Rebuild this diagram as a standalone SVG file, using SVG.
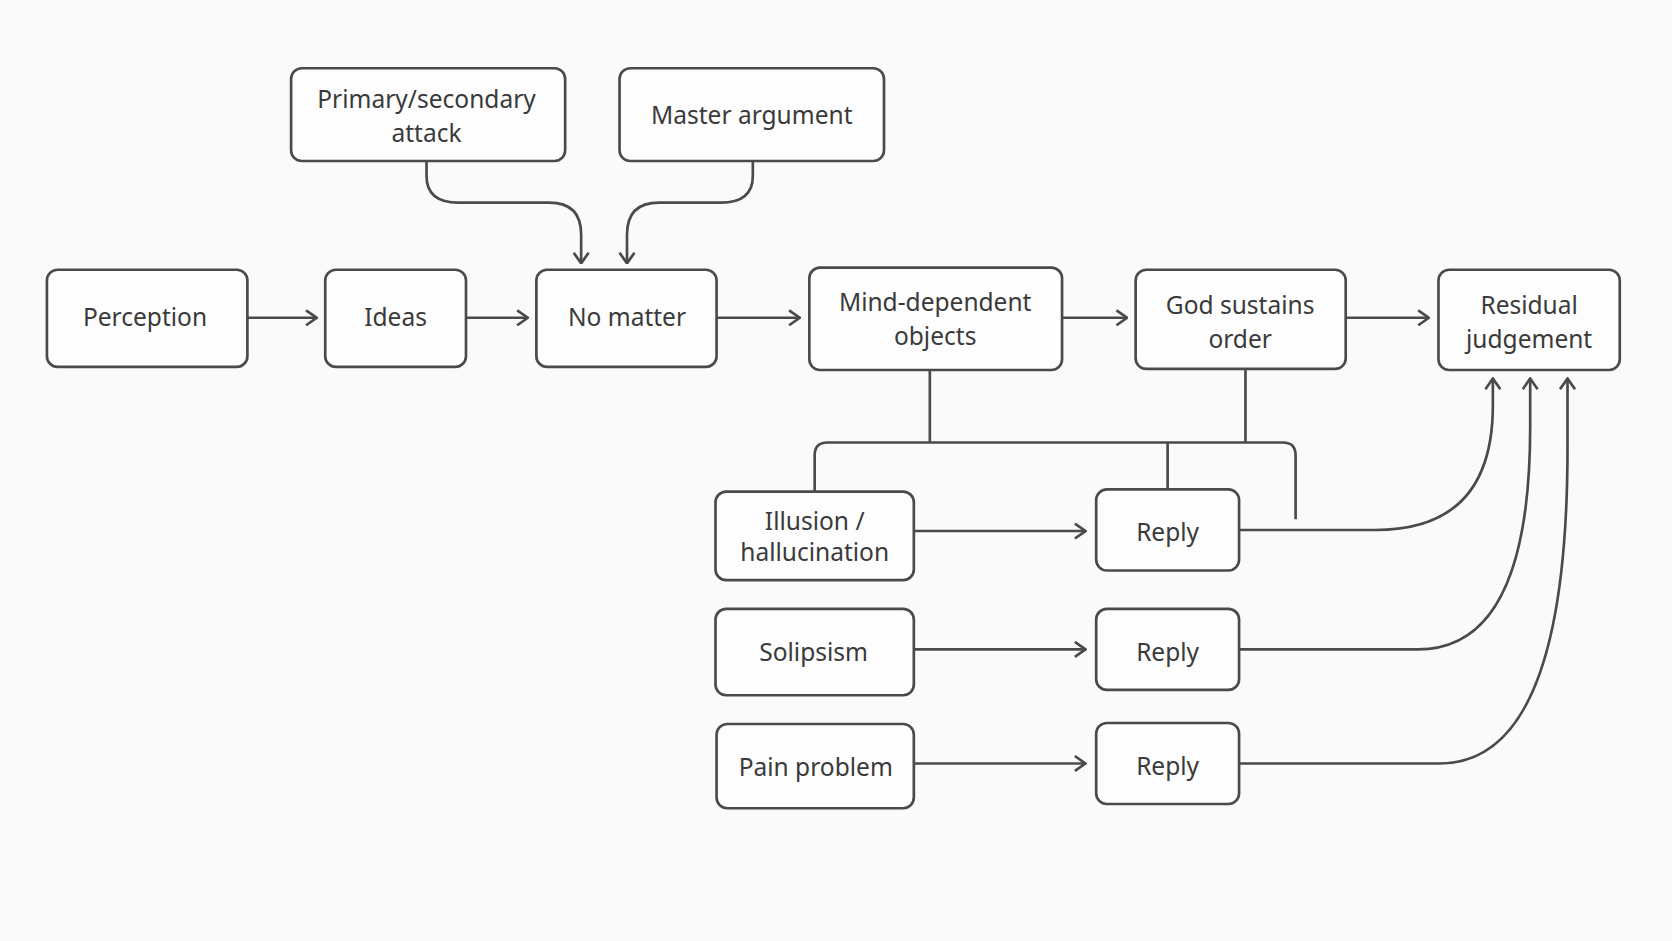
<svg xmlns="http://www.w3.org/2000/svg" width="1672" height="941" viewBox="0 0 1672 941">
<style>
.n rect{fill:#fdfdfd;stroke:#4a4a4a;stroke-width:2.5}
.n text{font-family:"Noto Sans","Open Sans",sans-serif;font-size:23px;fill:#3a3a3a;text-anchor:middle}
.c path{fill:none;stroke:#4a4a4a;stroke-width:2.5}
.a{marker-end:url(#ar)}
</style>
<defs><marker id="ar" viewBox="0 0 12 16" refX="11" refY="8" markerWidth="12" markerHeight="16" markerUnits="userSpaceOnUse" orient="auto"><path d="M1 1L11 8L1 15" fill="none" stroke="#4a4a4a" stroke-width="2.5"/></marker></defs>
<rect width="1672" height="941" fill="#fafafa"/>
<g transform="scale(1.06633)">
<g class="c">
<path class="a" d="M400 151V165Q400 190 430 190H515Q545 190 545 220V247"/>
<path class="a" d="M706 151V165Q706 190 676 190H618Q588 190 588 220V247"/>
<path class="a" d="M232 298H297"/>
<path class="a" d="M437 298H495"/>
<path class="a" d="M672 298H750"/>
<path class="a" d="M996 298H1057"/>
<path class="a" d="M1262 298H1340"/>
<path d="M872 347V415"/>
<path d="M1168 346V415"/>
<path d="M764 461V427Q764 415 776 415H1203Q1215 415 1215 427V487"/>
<path d="M1095 415V459"/>
<path class="a" d="M857 498H1018"/>
<path class="a" d="M857 609H1018"/>
<path class="a" d="M857 716H1018"/>
<path class="a" d="M1162 497H1290Q1400 497 1400 380V355"/>
<path class="a" d="M1162 609H1330Q1435 609 1435 400V355"/>
<path class="a" d="M1162 716H1350Q1470 716 1470 420V355"/>
</g>
<g id="primary" class="n"><rect x="273" y="64" width="257" height="87" rx="10"/><text x="400" y="101">Primary/secondary</text><text x="400" y="133">attack</text></g>
<g id="master" class="n"><rect x="581" y="64" width="248" height="87" rx="10"/><text x="705" y="116">Master argument</text></g>
<g id="perception" class="n"><rect x="44" y="253" width="188" height="91" rx="10"/><text x="136" y="306">Perception</text></g>
<g id="ideas" class="n"><rect x="305" y="253" width="132" height="91" rx="10"/><text x="371" y="306">Ideas</text></g>
<g id="nomatter" class="n"><rect x="503" y="253" width="169" height="91" rx="10"/><text x="588" y="306">No matter</text></g>
<g id="mind" class="n"><rect x="759" y="251" width="237" height="96" rx="10"/><text x="877" y="292">Mind-dependent</text><text x="877" y="324">objects</text></g>
<g id="god" class="n"><rect x="1065" y="253" width="197" height="93" rx="10"/><text x="1163" y="294">God sustains</text><text x="1163" y="326">order</text></g>
<g id="residual" class="n"><rect x="1349" y="253" width="170" height="94" rx="10"/><text x="1434" y="294">Residual</text><text x="1434" y="326">judgement</text></g>
<g id="illusion" class="n"><rect x="671" y="461" width="186" height="83" rx="10"/><text x="764" y="497">Illusion /</text><text x="764" y="526">hallucination</text></g>
<g id="reply1" class="n"><rect x="1028" y="459" width="134" height="76" rx="10"/><text x="1095" y="507">Reply</text></g>
<g id="solipsism" class="n"><rect x="671" y="571" width="186" height="81" rx="10"/><text x="763" y="620">Solipsism</text></g>
<g id="reply2" class="n"><rect x="1028" y="571" width="134" height="76" rx="10"/><text x="1095" y="620">Reply</text></g>
<g id="pain" class="n"><rect x="672" y="679" width="185" height="79" rx="10"/><text x="765" y="728">Pain problem</text></g>
<g id="reply3" class="n"><rect x="1028" y="678" width="134" height="76" rx="10"/><text x="1095" y="727">Reply</text></g>
</g>
</svg>
